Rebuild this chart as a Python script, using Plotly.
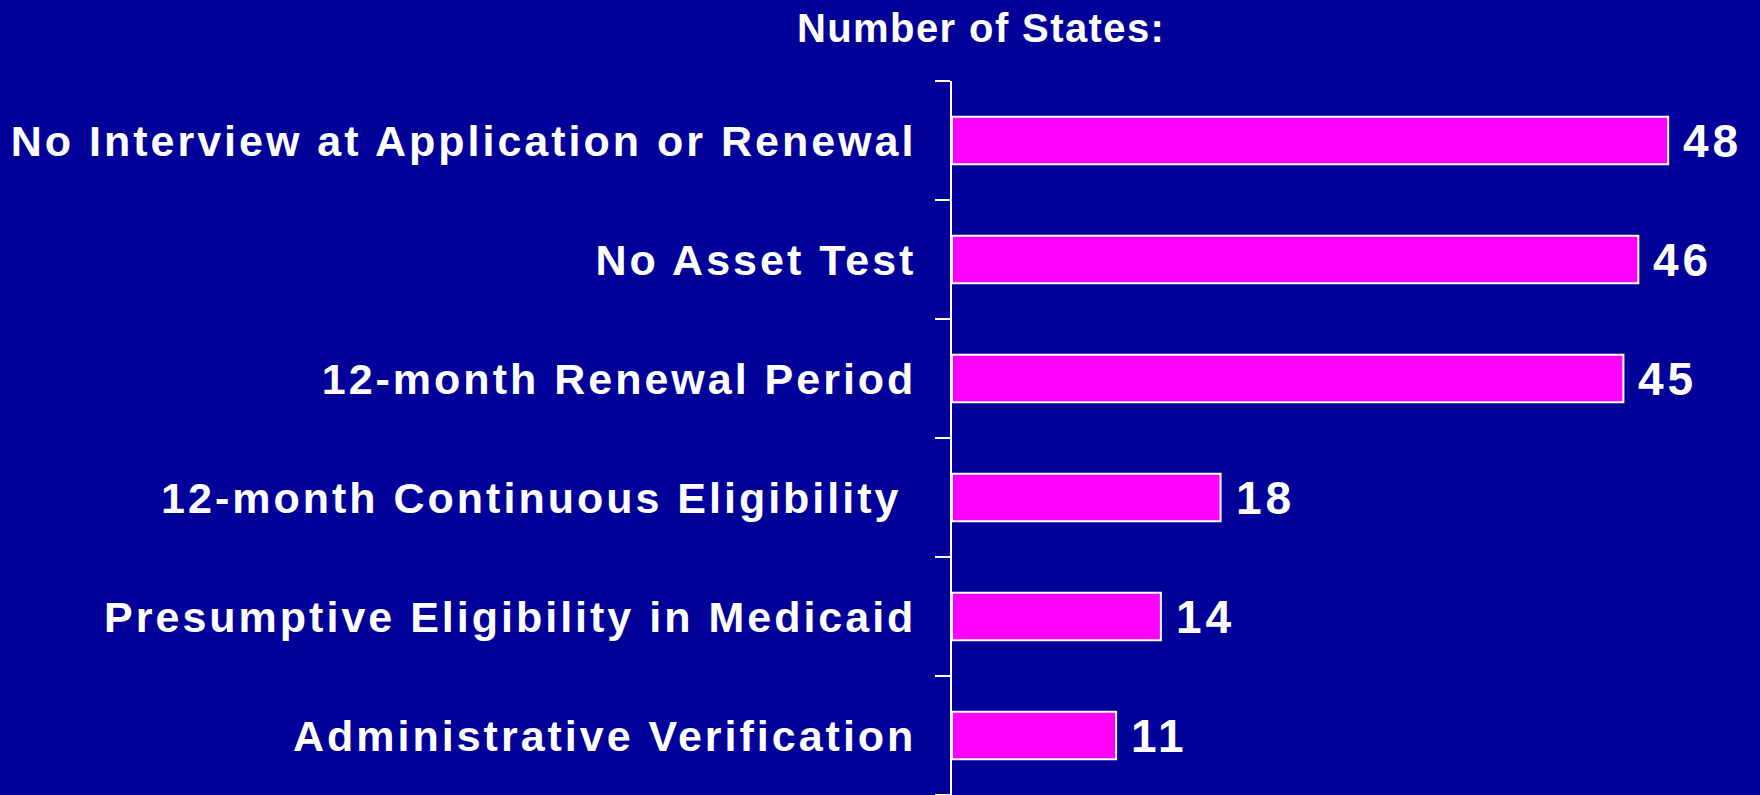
import plotly.graph_objects as go

categories = [
    "No Interview at Application or Renewal",
    "No Asset Test",
    "12-month Renewal Period",
    "12-month Continuous Eligibility\u00a0",
    "Presumptive Eligibility in Medicaid",
    "Administrative Verification",
]
values = [48, 46, 45, 18, 14, 11]
title_text = "Number of States:"

BG = "#000099"
BAR = "#FF00FF"
FONT = "Arial, Liberation Sans, sans-serif"


def spaced(s, px):
    return f'<span style="letter-spacing:{px}px">{s}</span>'


fig = go.Figure()
fig.add_trace(go.Bar(
    x=values,
    y=categories,
    orientation="h",
    width=0.4,
    marker=dict(color=BAR, line=dict(color="white", width=2)),
    hoverinfo="skip",
))

for v, c in zip(values, categories):
    fig.add_annotation(
        x=v, y=c, xref="x", yref="y",
        text=spaced(str(v), 4), showarrow=False,
        xanchor="left", yanchor="middle", xshift=13,
        font=dict(family=FONT, size=46, color="white", weight="bold"),
    )

fig.add_annotation(
    xref="paper", yref="paper",
    x=(981 - 952) / 808, y=1 + (81 - 28) / 714,
    xanchor="center", yanchor="middle",
    text=spaced(title_text, 1.4), showarrow=False,
    font=dict(family=FONT, size=40, color="white", weight="bold"),
)

fig.update_layout(
    width=1760, height=795,
    margin=dict(l=952, r=0, t=81, b=0, pad=0),
    paper_bgcolor=BG, plot_bgcolor=BG,
    showlegend=False,
    bargap=0.6,
    xaxis=dict(range=[0, 808 / 14.92], visible=False, showgrid=False, zeroline=False, fixedrange=True),
    yaxis=dict(
        autorange="reversed",
        showline=True, linecolor="white", linewidth=2,
        ticks="outside", ticklen=15, tickwidth=2, tickcolor="white",
        tickson="boundaries",
        ticklabelstandoff=25,
        tickmode="array",
        tickvals=categories,
        ticktext=[spaced(c, 3) for c in categories],
        showgrid=False, zeroline=False,
        tickfont=dict(family=FONT, size=43, color="white", weight="bold"),
        fixedrange=True,
    ),
)

fig.write_html(
    "out.html",
    config={"displayModeBar": False, "staticPlot": True},
    post_script="document.body.style.margin='0';document.body.style.background='#000099';",
)
